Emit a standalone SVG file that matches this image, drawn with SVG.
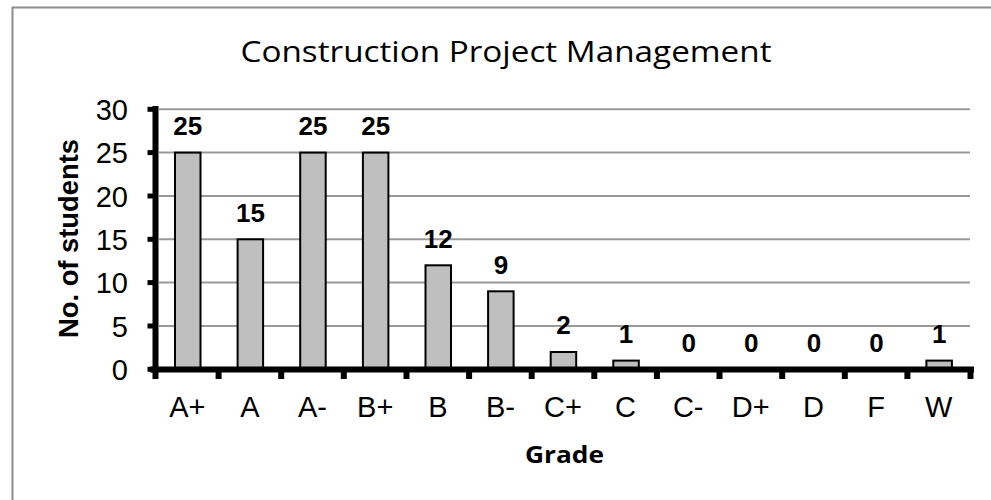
<svg xmlns="http://www.w3.org/2000/svg" width="991" height="500" viewBox="0 0 991 500">
<style>
.grid{stroke:#999;stroke-width:2}
.bar{fill:#bfbfbf;stroke:#000;stroke-width:2}
.ax{stroke:#000;stroke-width:6;stroke-linecap:butt}
.tick{stroke:#000;stroke-width:5}
.ylab{font-family:"Liberation Sans",Arial,sans-serif;font-size:29px;text-anchor:end;fill:#000}
.xlab{font-family:"Liberation Sans",Arial,sans-serif;font-size:29px;text-anchor:middle;fill:#000}
.val{font-family:"Liberation Sans",Arial,sans-serif;font-size:26px;font-weight:bold;text-anchor:middle;fill:#000}
</style>
<rect width="991" height="500" fill="#fff"/>
<path d="M12.5,500 V7.5 H991" fill="none" stroke="#8c8c8c" stroke-width="2"/>
<text id="title" x="506" y="61.7" font-family="'Open Sans','Noto Sans',sans-serif" font-size="30" text-anchor="middle" textLength="531" lengthAdjust="spacingAndGlyphs">Construction Project Management</text>
<g id="gridlines">
<line class="grid" x1="159" y1="109.3" x2="970" y2="109.3"/>
<line class="grid" x1="159" y1="152.6" x2="970" y2="152.6"/>
<line class="grid" x1="159" y1="196" x2="970" y2="196"/>
<line class="grid" x1="159" y1="239.3" x2="970" y2="239.3"/>
<line class="grid" x1="159" y1="282.6" x2="970" y2="282.6"/>
<line class="grid" x1="159" y1="326" x2="970" y2="326"/>
</g>
<g id="bars">
<rect class="bar" x="175" y="152.6" width="25.5" height="216.7"/>
<rect class="bar" x="237.6" y="239.3" width="25.5" height="130"/>
<rect class="bar" x="300.2" y="152.6" width="25.5" height="216.7"/>
<rect class="bar" x="362.9" y="152.6" width="25.5" height="216.7"/>
<rect class="bar" x="425.5" y="265.3" width="25.5" height="104"/>
<rect class="bar" x="488.1" y="291.3" width="25.5" height="78"/>
<rect class="bar" x="550.7" y="352" width="25.5" height="17.3"/>
<rect class="bar" x="613.3" y="360.6" width="25.5" height="8.7"/>
<rect class="bar" x="926.4" y="360.6" width="25.5" height="8.7"/>
</g>
<g id="axes">
<line class="ax" x1="155.5" y1="106" x2="155.5" y2="373"/>
<line class="ax" x1="150" y1="369.5" x2="974" y2="369.5"/>
<g id="yticks">
<line class="tick" x1="147.5" y1="109.3" x2="155" y2="109.3"/>
<line class="tick" x1="147.5" y1="152.6" x2="155" y2="152.6"/>
<line class="tick" x1="147.5" y1="196" x2="155" y2="196"/>
<line class="tick" x1="147.5" y1="239.3" x2="155" y2="239.3"/>
<line class="tick" x1="147.5" y1="282.6" x2="155" y2="282.6"/>
<line class="tick" x1="147.5" y1="326" x2="155" y2="326"/>
<line class="tick" x1="147.5" y1="369.3" x2="155" y2="369.3"/>
</g>
<g id="xticks">
<line class="ax" x1="155.5" y1="369" x2="155.5" y2="379"/>
<line class="ax" x1="218.6" y1="369" x2="218.6" y2="379"/>
<line class="ax" x1="281.2" y1="369" x2="281.2" y2="379"/>
<line class="ax" x1="343.8" y1="369" x2="343.8" y2="379"/>
<line class="ax" x1="406.5" y1="369" x2="406.5" y2="379"/>
<line class="ax" x1="469.1" y1="369" x2="469.1" y2="379"/>
<line class="ax" x1="531.7" y1="369" x2="531.7" y2="379"/>
<line class="ax" x1="594.3" y1="369" x2="594.3" y2="379"/>
<line class="ax" x1="656.9" y1="369" x2="656.9" y2="379"/>
<line class="ax" x1="719.5" y1="369" x2="719.5" y2="379"/>
<line class="ax" x1="782.2" y1="369" x2="782.2" y2="379"/>
<line class="ax" x1="844.8" y1="369" x2="844.8" y2="379"/>
<line class="ax" x1="907.4" y1="369" x2="907.4" y2="379"/>
<line class="ax" x1="970.5" y1="369" x2="970.5" y2="379"/>
</g>
</g>
<g id="ylabels">
<text class="ylab" x="128" y="119.8">30</text>
<text class="ylab" x="128" y="163">25</text>
<text class="ylab" x="128" y="206.5">20</text>
<text class="ylab" x="128" y="249.8">15</text>
<text class="ylab" x="128" y="293">10</text>
<text class="ylab" x="128" y="336.5">5</text>
<text class="ylab" x="128" y="379.8">0</text>
</g>
<g id="xlabels">
<text class="xlab" x="187.3" y="416.7">A+</text>
<text class="xlab" x="249.9" y="416.7">A</text>
<text class="xlab" x="312.5" y="416.7">A-</text>
<text class="xlab" x="375.2" y="416.7">B+</text>
<text class="xlab" x="437.8" y="416.7">B</text>
<text class="xlab" x="500.4" y="416.7">B-</text>
<text class="xlab" x="563" y="416.7">C+</text>
<text class="xlab" x="625.6" y="416.7">C</text>
<text class="xlab" x="688.2" y="416.7">C-</text>
<text class="xlab" x="750.8" y="416.7">D+</text>
<text class="xlab" x="813.5" y="416.7">D</text>
<text class="xlab" x="876.1" y="416.7">F</text>
<text class="xlab" x="938.7" y="416.7">W</text>
</g>
<g id="values">
<text class="val" x="187.8" y="135">25</text>
<text class="val" x="250.4" y="221.7">15</text>
<text class="val" x="313" y="135">25</text>
<text class="val" x="375.7" y="135">25</text>
<text class="val" x="438.3" y="247.7">12</text>
<text class="val" x="500.9" y="273.7">9</text>
<text class="val" x="563.5" y="334.4">2</text>
<text class="val" x="626.1" y="343">1</text>
<text class="val" x="688.7" y="351.7">0</text>
<text class="val" x="751.3" y="351.7">0</text>
<text class="val" x="814" y="351.7">0</text>
<text class="val" x="876.6" y="351.7">0</text>
<text class="val" x="939.2" y="343">1</text>
</g>
<text id="ytitle" transform="translate(77.5,238.5) rotate(-90)" font-family="'Liberation Sans',Arial,sans-serif" font-size="27" font-weight="bold" text-anchor="middle" textLength="199" lengthAdjust="spacingAndGlyphs">No. of students</text>
<text id="xtitle" x="564.5" y="463" font-family="'Open Sans','Liberation Sans',sans-serif" font-size="24" font-weight="bold" text-anchor="middle" textLength="79" lengthAdjust="spacingAndGlyphs">Grade</text>
</svg>
